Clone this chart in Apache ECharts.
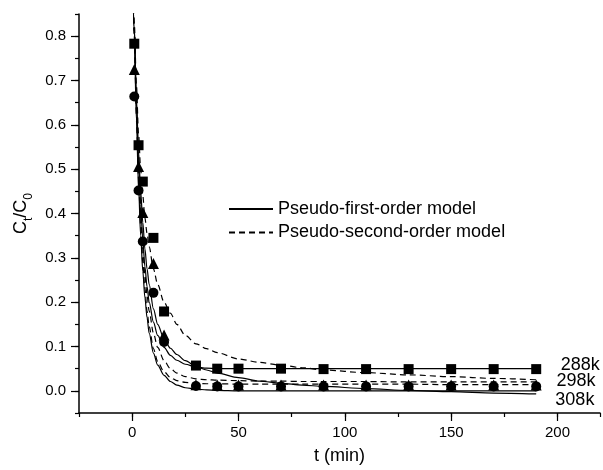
<!DOCTYPE html>
<html>
<head>
<meta charset="utf-8">
<script src="https://cdn.jsdelivr.net/npm/echarts@6/dist/echarts.min.js"></script>
<style>
html, body { margin: 0; padding: 0; background: #fff; }
#main { width: 603px; height: 470px; }
</style>
</head>
<body>
<div id="main"></div>
<script>
// measured points (t in min, Ct/C0)
var tData = [1, 3, 5, 10, 15, 30, 40, 50, 70, 90, 110, 130, 150, 170, 190];
var c288 = [0.783, 0.554, 0.472, 0.345, 0.179, 0.057, 0.050, 0.050, 0.050, 0.049, 0.049, 0.049, 0.049, 0.049, 0.049];
var c298 = [0.725, 0.506, 0.402, 0.287, 0.126, 0.014, 0.013, 0.013, 0.013, 0.013, 0.013, 0.013, 0.013, 0.013, 0.013];
var c308 = [0.664, 0.452, 0.337, 0.221, 0.110, 0.011, 0.010, 0.010, 0.010, 0.010, 0.010, 0.010, 0.010, 0.010, 0.010];

// model curves
var tFit = [0, 1, 2, 3, 4, 5, 6, 7, 8, 10, 12, 15, 18, 21, 25, 30, 35, 40, 50, 60, 70, 80, 90, 110, 130, 150, 170, 190];
var first288 = [1.0, 0.82, 0.65, 0.52, 0.42, 0.34, 0.28, 0.235, 0.2, 0.155, 0.125, 0.098, 0.08, 0.069, 0.06, 0.054, 0.051, 0.05, 0.05, 0.05, 0.05, 0.05, 0.05, 0.05, 0.05, 0.05, 0.05, 0.05];
var first298 = [1.0, 0.82, 0.66, 0.54, 0.45, 0.38, 0.32, 0.275, 0.24, 0.185, 0.15, 0.117, 0.096, 0.082, 0.068, 0.055, 0.047, 0.04, 0.03, 0.022, 0.017, 0.013, 0.01, 0.005, 0.001, -0.002, -0.005, -0.007];
var first308 = [1.0, 0.80, 0.61, 0.46, 0.35, 0.27, 0.21, 0.165, 0.13, 0.085, 0.058, 0.035, 0.021, 0.013, 0.007, 0.004, 0.002, 0.001, 0.0, 0.0, 0.0, 0.0, 0.0, 0.0, 0.0, 0.0, 0.0, 0.0];
var second288 = [1.0, 0.83, 0.69, 0.58, 0.5, 0.44, 0.39, 0.355, 0.325, 0.275, 0.24, 0.2, 0.175, 0.15, 0.125, 0.106, 0.095, 0.086, 0.072, 0.064, 0.058, 0.052, 0.047, 0.041, 0.036, 0.032, 0.028, 0.025];
var second298 = [1.0, 0.81, 0.64, 0.5, 0.4, 0.32, 0.26, 0.215, 0.18, 0.13, 0.098, 0.068, 0.05, 0.04, 0.032, 0.027, 0.025, 0.024, 0.023, 0.022, 0.022, 0.021, 0.021, 0.021, 0.02, 0.02, 0.02, 0.02];
var second308 = [1.0, 0.8, 0.62, 0.48, 0.37, 0.29, 0.23, 0.18, 0.145, 0.095, 0.066, 0.043, 0.03, 0.023, 0.019, 0.017, 0.016, 0.016, 0.015, 0.015, 0.015, 0.015, 0.015, 0.015, 0.015, 0.014, 0.014, 0.014];

// temperature tags at the right end
var tagNames = ['288k', '298k', '308k'];
var tagT = [201.5, 199.5, 199];
var tagC = [0.059, 0.023, -0.02];

var xMajor = [0, 50, 100, 150, 200];
var yMajor = [0, 0.1, 0.2, 0.3, 0.4, 0.5, 0.6, 0.7, 0.8];

var FONT = 'Liberation Sans, Arial, sans-serif';

function pairs(xs, ys) {
    return xs.map(function (x, i) { return [x, ys[i]]; });
}

var myChart = echarts.init(document.getElementById('main'));

function curve(name, ys, dashed) {
    return {
        name: name,
        type: 'line',
        data: pairs(tFit, ys),
        symbol: 'none',
        smooth: 0.3,
        smoothMonotone: 'x',
        clip: true,
        color: '#000',
        lineStyle: { color: '#000', width: 1.2, type: dashed ? [6, 4] : 'solid' },
        z: 2
    };
}

function points(ys, sym, size) {
    return {
        type: 'scatter',
        data: pairs(tData, ys),
        symbol: sym,
        symbolSize: size,
        itemStyle: { color: '#000', opacity: 1 },
        z: 3
    };
}

var option = {
    animation: false,
    backgroundColor: '#fff',
    textStyle: { fontFamily: FONT },
    grid: { left: 79, top: 14, right: -2, bottom: 57 },
    legend: {
        data: [
            { name: 'Pseudo-first-order model', icon: 'inherit' },
            { name: 'Pseudo-second-order model', icon: 'inherit' }
        ],
        orient: 'vertical',
        left: 228,
        top: 200,
        padding: 0,
        itemWidth: 44,
        itemHeight: 18,
        itemGap: 5.5,
        selectedMode: false,
        itemStyle: { opacity: 0 },
        textStyle: { fontFamily: FONT, fontSize: 18, color: '#000' }
    },
    xAxis: [{
        type: 'value',
        min: -25,
        max: 220,
        interval: 25,
        name: 't (min)',
        nameLocation: 'middle',
        nameGap: 34,
        nameTextStyle: { fontFamily: FONT, fontSize: 18, color: '#000' },
        axisLine: { onZero: false, lineStyle: { color: '#000', width: 1.5 } },
        axisTick: { length: 4, lineStyle: { color: '#000', width: 1.2 } },
        axisLabel: {
            margin: 12,
            fontFamily: FONT, fontSize: 15, color: '#000',
            formatter: function (v) { return xMajor.indexOf(v) >= 0 ? String(v) : ''; }
        },
        splitLine: { show: false }
    }, {
        type: 'value',
        min: -25,
        max: 220,
        position: 'bottom',
        axisLine: { show: false, onZero: false },
        axisTick: { customValues: xMajor, length: 8, lineStyle: { color: '#000', width: 1.2 } },
        axisLabel: { show: false },
        splitLine: { show: false }
    }],
    yAxis: [{
        type: 'value',
        min: -0.05,
        max: 0.85,
        interval: 0.05,
        name: '{m|C}{s|t}{m|/C}{s|0}',
        nameLocation: 'middle',
        nameRotate: 90,
        nameGap: 46,
        nameTextStyle: {
            color: '#000',
            rich: {
                m: { fontFamily: FONT, fontSize: 18, lineHeight: 20, verticalAlign: 'top', color: '#000' },
                s: { fontFamily: FONT, fontSize: 12, lineHeight: 12, padding: [10, 0, 0, 0], verticalAlign: 'top', color: '#000' }
            }
        },
        axisLine: { onZero: false, lineStyle: { color: '#000', width: 1.5 } },
        axisTick: { length: 4, lineStyle: { color: '#000', width: 1.2 } },
        axisLabel: {
            margin: 13,
            fontFamily: FONT, fontSize: 15, color: '#000',
            formatter: function (v) {
                var k = Math.round(v * 10);
                return (Math.abs(v * 10 - k) < 1e-6 && k >= 0 && k <= 8) ? (k / 10).toFixed(1) : '';
            }
        },
        splitLine: { show: false }
    }, {
        type: 'value',
        min: -0.05,
        max: 0.85,
        position: 'left',
        axisLine: { show: false, onZero: false },
        axisTick: { customValues: yMajor, length: 8, lineStyle: { color: '#000', width: 1.2 } },
        axisLabel: { show: false },
        splitLine: { show: false }
    }],
    series: [
        curve('Pseudo-first-order model', first288, false),
        curve('Pseudo-first-order model', first298, false),
        curve('Pseudo-first-order model', first308, false),
        curve('Pseudo-second-order model', second288, true),
        curve('Pseudo-second-order model', second298, true),
        curve('Pseudo-second-order model', second308, true),
        points(c288, 'rect', 10),
        points(c298, 'triangle', 11),
        points(c308, 'circle', 10),
        {
            type: 'scatter',
            data: tagT.map(function (t, i) { return [t, tagC[i], tagNames[i]]; }),
            symbolSize: 0,
            silent: true,
            itemStyle: { opacity: 1 },
            label: {
                show: true,
                position: 'right',
                distance: 0,
                fontFamily: FONT,
                fontSize: 18,
                color: '#000',
                opacity: 1,
                formatter: function (p) { return p.data[2]; }
            },
            z: 4
        }
    ]
};

myChart.setOption(option);
</script>
</body>
</html>
